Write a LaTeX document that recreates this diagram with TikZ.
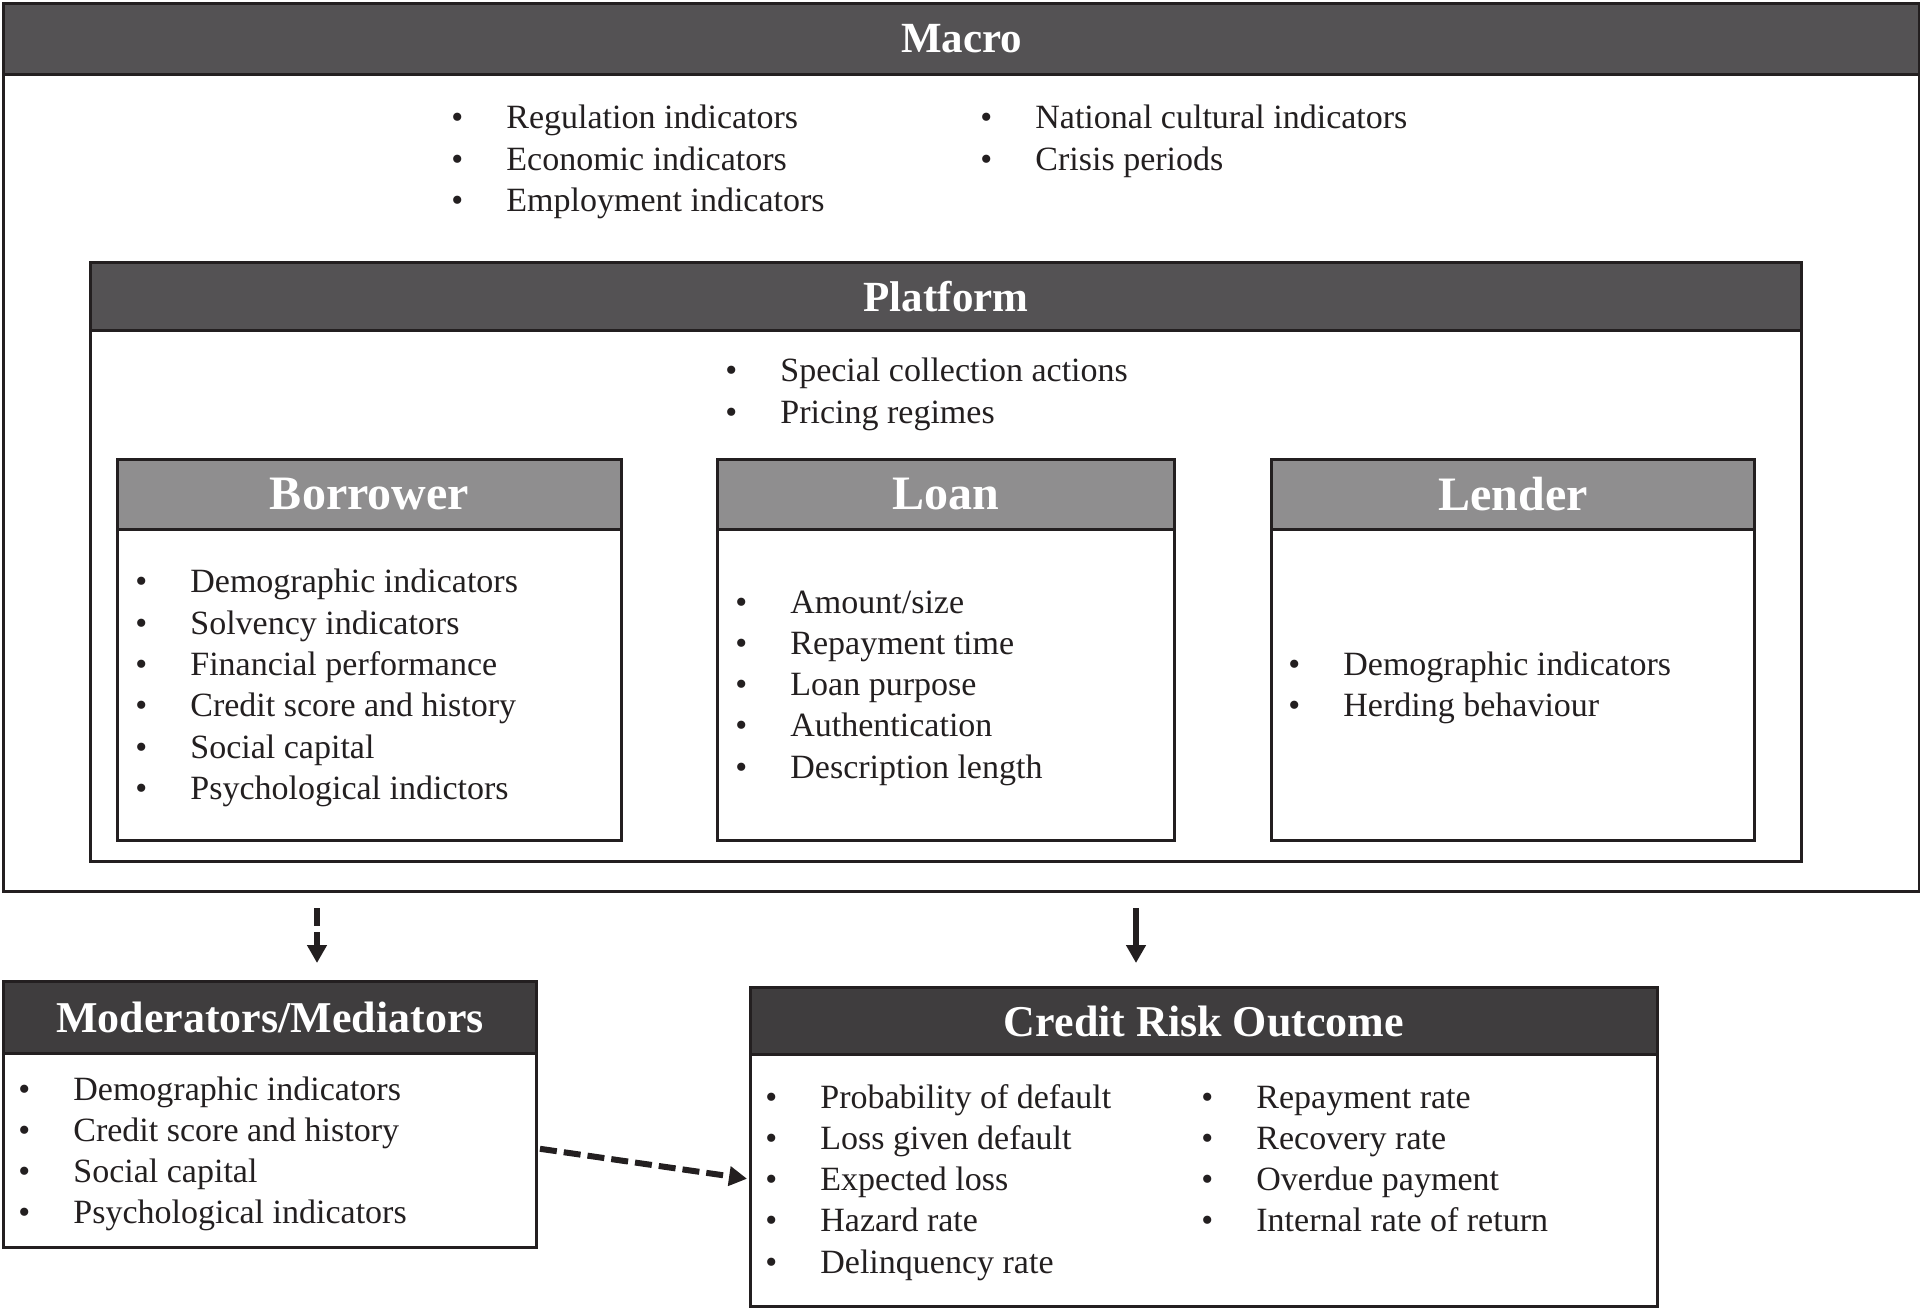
\documentclass[tikz,border=0pt]{standalone}
\usepackage{fontspec}
\setmainfont{Liberation Serif}
\usetikzlibrary{arrows.meta,calc}
\definecolor{linec}{HTML}{231F20}
\definecolor{darkhdr}{HTML}{545254}
\definecolor{darkerhdr}{HTML}{3F3D3E}
\definecolor{midhdr}{HTML}{8F8E8F}
\tikzset{
  frame/.style={draw=linec, line width=1.5pt, fill=white, inner sep=0pt, anchor=north west},
  hdr/.style={draw=linec, line width=1.5pt, fill=#1, text=white, inner sep=0pt, anchor=north west},
  bigtitle/.style={font=\fontsize{21.5}{24}\selectfont\bfseries},
  subtitle/.style={font=\fontsize{24}{28}\selectfont\bfseries},
  item/.style={anchor=base west, inner sep=0pt, font=\fontsize{17}{20}\selectfont, text=linec},
  conn/.style={draw=linec, line width=3pt, -{Triangle[length=9pt,width=9.5pt]}},
  dconn/.style={conn, dash pattern=on 9pt off 3pt},
  thickdconn/.style={draw=linec, line width=3pt, dash pattern=on 8.5pt off 3.5pt, -{Triangle[length=9pt,width=9.5pt]}}
}
\newcommand\bl{\makebox[27.5pt][l]{\textbullet}}
\newcommand\itemlist[4]{%
  \foreach \t [count=\i] in {#4} {\node[item] (#1\i) at ({#2},{#3+(\i-1)*41.3}) {\bl\t};}}
\begin{document}
\begin{tikzpicture}[x=0.5pt,y=-0.5pt]
\useasboundingbox (0,0) rectangle (1920,1309);
% Macro
\node[frame, minimum width=958pt, minimum height=444pt] (macro) at (2,2) {};
\node[hdr=darkhdr, minimum width=958pt, minimum height=35.5pt, bigtitle] (machdr) at (2,2) {Macro};
\itemlist{maca}{451}{129}{Regulation indicators,Economic indicators,Employment indicators}
\itemlist{macb}{980}{129}{National cultural indicators,Crisis periods}
% Platform
\node[frame, minimum width=855.5pt, minimum height=299.5pt] (platform) at (89,261) {};
\node[hdr=darkhdr, minimum width=855.5pt, minimum height=34pt, bigtitle] (plathdr) at (89,261) {Platform};
\itemlist{plat}{725}{382}{Special collection actions,Pricing regimes}
% Borrower
\node[frame, minimum width=252pt, minimum height=190.5pt] (borrower) at (116,458) {};
\node[hdr=midhdr, minimum width=252pt, minimum height=35pt, subtitle] (borhdr) at (116,458) {Borrower};
\itemlist{bor}{135}{593}{Demographic indicators,Solvency indicators,Financial performance,Credit score and history,Social capital,Psychological indictors}
% Loan
\node[frame, minimum width=228.5pt, minimum height=190.5pt] (loan) at (716,458) {};
\node[hdr=midhdr, minimum width=228.5pt, minimum height=35pt, subtitle] (loanhdr) at (716,458) {Loan};
\itemlist{loa}{735}{613}{Amount/size,Repayment time,Loan purpose,Authentication,Description length}
% Lender
\node[frame, minimum width=241.5pt, minimum height=190.5pt] (lender) at (1270,458) {};
\node[hdr=midhdr, minimum width=241.5pt, minimum height=35pt, subtitle] (lenhdr) at (1270,458) {Lender};
\itemlist{len}{1288}{675}{Demographic indicators,Herding behaviour}
% Moderators
\node[frame, minimum width=266.5pt, minimum height=133pt] (mod) at (2,980) {};
\node[hdr=darkerhdr, minimum width=266.5pt, minimum height=36pt, font=\fontsize{22}{26}\selectfont\bfseries] (modhdr) at (2,980) {Moderators/Mediators};
\itemlist{mdi}{18}{1100}{Demographic indicators,Credit score and history,Social capital,Psychological indicators}
% Credit risk outcome
\node[frame, minimum width=453.5pt, minimum height=159.5pt] (credit) at (749,986) {};
\node[hdr=darkerhdr, minimum width=453.5pt, minimum height=33.5pt, font=\fontsize{22}{26}\selectfont\bfseries] (crhdr) at (749,986) {Credit Risk Outcome};
\itemlist{cra}{765}{1108}{Probability of default,Loss given default,Expected loss,Hazard rate,Delinquency rate}
\itemlist{crb}{1201}{1108}{Repayment rate,Recovery rate,Overdue payment,Internal rate of return}
% connectors
\coordinate (ax1) at (317,0);
\coordinate (ax2) at (1136,0);
\draw[dconn, shorten <=7.5pt, shorten >=8.5pt] (macro.south -| ax1) -- (mod.north -| ax1);
\draw[conn, shorten <=7.5pt, shorten >=11.5pt] (macro.south -| ax2) -- (credit.north -| ax2);
\draw[thickdconn, shorten <=1pt, shorten >=1pt] ([yshift=-17pt]mod.east) -- ([yshift=-16pt]credit.west);
\end{tikzpicture}
\end{document}
